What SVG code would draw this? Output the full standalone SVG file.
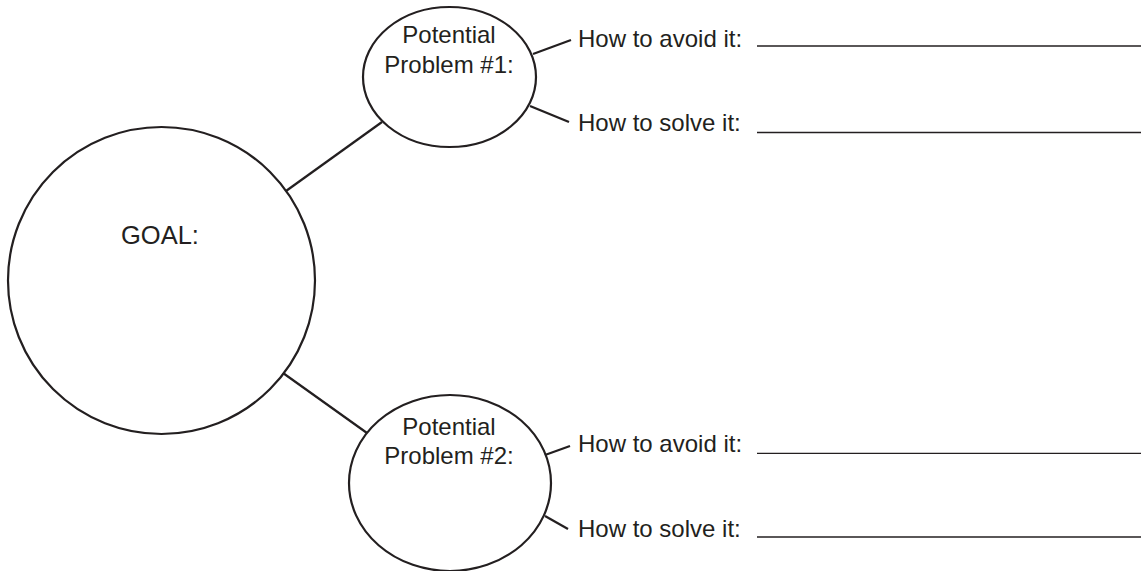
<svg xmlns="http://www.w3.org/2000/svg" width="1141" height="571" viewBox="0 0 1141 571">
<style>
.shape{fill:none;stroke:#231f20;stroke-width:2.2}
.conn{fill:none;stroke:#231f20;stroke-width:2.2}
.rule{stroke:#231f20;stroke-width:1.3}
text{font-family:"Liberation Sans",Arial,sans-serif;font-size:24px;fill:#231f20}
.c{text-anchor:middle}
</style>
<rect width="1141" height="571" fill="#fff"/>
<g id="connectors">
<line class="conn" x1="286" y1="191" x2="382" y2="122"/>
<line class="conn" x1="283" y1="373" x2="367" y2="433"/>
<line class="conn" x1="533" y1="54" x2="571" y2="40"/>
<line class="conn" x1="530" y1="106" x2="569" y2="122"/>
<line class="conn" x1="545" y1="455" x2="570" y2="446"/>
<line class="conn" x1="545" y1="516" x2="568" y2="529"/>
</g>
<g id="goal">
<circle class="shape" cx="161.5" cy="280.5" r="153.5"/>
<text x="121" y="244" style="font-size:25.5px">GOAL:</text>
</g>
<g id="problem1">
<ellipse class="shape" cx="449.5" cy="77" rx="86.5" ry="70"/>
<text class="c" x="449" y="43">Potential</text>
<text class="c" x="449" y="72.5">Problem #1:</text>
</g>
<g id="problem2">
<ellipse class="shape" cx="450" cy="483" rx="101" ry="88"/>
<text class="c" x="449" y="434.5">Potential</text>
<text class="c" x="449" y="463.5">Problem #2:</text>
</g>
<g id="avoid1">
<text x="578" y="47">How to avoid it:</text>
<line class="rule" x1="757" y1="46" x2="1141" y2="46"/>
</g>
<g id="solve1">
<text x="578" y="131">How to solve it:</text>
<line class="rule" x1="757" y1="132.5" x2="1141" y2="132.5"/>
</g>
<g id="avoid2">
<text x="578" y="452">How to avoid it:</text>
<line class="rule" x1="757" y1="453.3" x2="1141" y2="453.3"/>
</g>
<g id="solve2">
<text x="578" y="537">How to solve it:</text>
<line class="rule" x1="757" y1="537" x2="1141" y2="537"/>
</g>
</svg>
